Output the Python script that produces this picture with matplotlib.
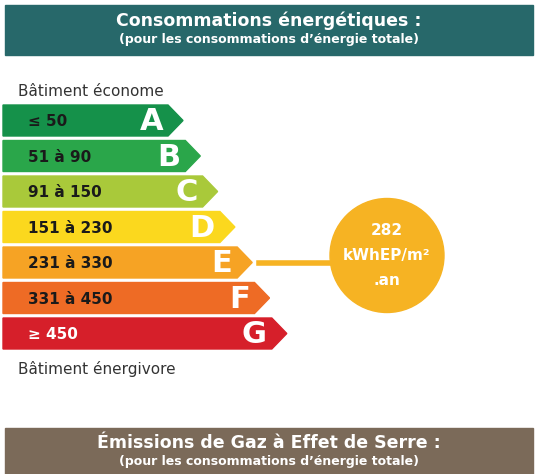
import matplotlib
matplotlib.use("Agg")
import matplotlib.pyplot as plt
from matplotlib.patches import Polygon, Rectangle, Circle

classes = ["A", "B", "C", "D", "E", "F", "G"]
ranges = ["≤ 50", "51 à 90", "91 à 150", "151 à 230", "231 à 330", "331 à 450", "≥ 450"]
colors = ["#15914a", "#2aa64a", "#a9c93a", "#fbd81e", "#f6a324", "#ee6b25", "#d61f2a"]
value = 282
current_class = "E"

W, H = 538, 474
fig = plt.figure(figsize=(W/100, H/100), dpi=100)
ax = fig.add_axes([0, 0, 1, 1])
ax.set_xlim(0, W); ax.set_ylim(H, 0); ax.axis("off")

ax.add_patch(Rectangle((5, 5), 528, 50, color="#27686a"))
ax.text(269, 21, "Consommations énergétiques :", color="white", ha="center", va="center", fontsize=12.5, fontweight="bold")
ax.text(269, 39, "(pour les consommations d’énergie totale)", color="white", ha="center", va="center", fontsize=9, fontweight="bold")
ax.add_patch(Rectangle((5, 428), 528, 50, color="#7b6a59"))
ax.text(269, 443, "Émissions de Gaz à Effet de Serre :", color="white", ha="center", va="center", fontsize=12.5, fontweight="bold")
ax.text(269, 462, "(pour les consommations d’énergie totale)", color="white", ha="center", va="center", fontsize=9, fontweight="bold")

ax.text(18, 91, "Bâtiment économe", fontsize=11, color="#333333", va="center")
ax.text(18, 369, "Bâtiment énergivore", fontsize=11, color="#333333", va="center")

y0, step, h = 105, 35.5, 31
for i, (c, r, col) in enumerate(zip(classes, ranges, colors)):
    top = y0 + i*step
    right = 168 + i*17.3
    pts = [(3, top), (right, top), (right+15, top+h/2), (right, top+h), (3, top+h)]
    ax.add_patch(Polygon(pts, closed=True, color=col))
    tc = "white" if c == "G" else "#1a1a1a"
    ax.text(28, top+h/2+1, r, fontsize=11, fontweight="bold", color=tc, va="center")
    ax.text(right-5, top+h/2+1, c, fontsize=22, fontweight="bold", color="white", va="center", ha="right")
    if c == current_class:
        ax.plot([right+22, 330], [top+h/2, top+h/2], color="#f6b323", lw=4)

cy = y0 + classes.index(current_class)*step + h/2 - 7
ax.add_patch(Circle((387, cy), 57, color="#f6b323"))
ax.text(387, cy-25, f"{value}", color="white", ha="center", va="center", fontsize=11, fontweight="bold")
ax.text(387, cy, "kWhEP/m²", color="white", ha="center", va="center", fontsize=11, fontweight="bold")
ax.text(387, cy+25, ".an", color="white", ha="center", va="center", fontsize=11, fontweight="bold")

fig.savefig("out.png", dpi=100)
